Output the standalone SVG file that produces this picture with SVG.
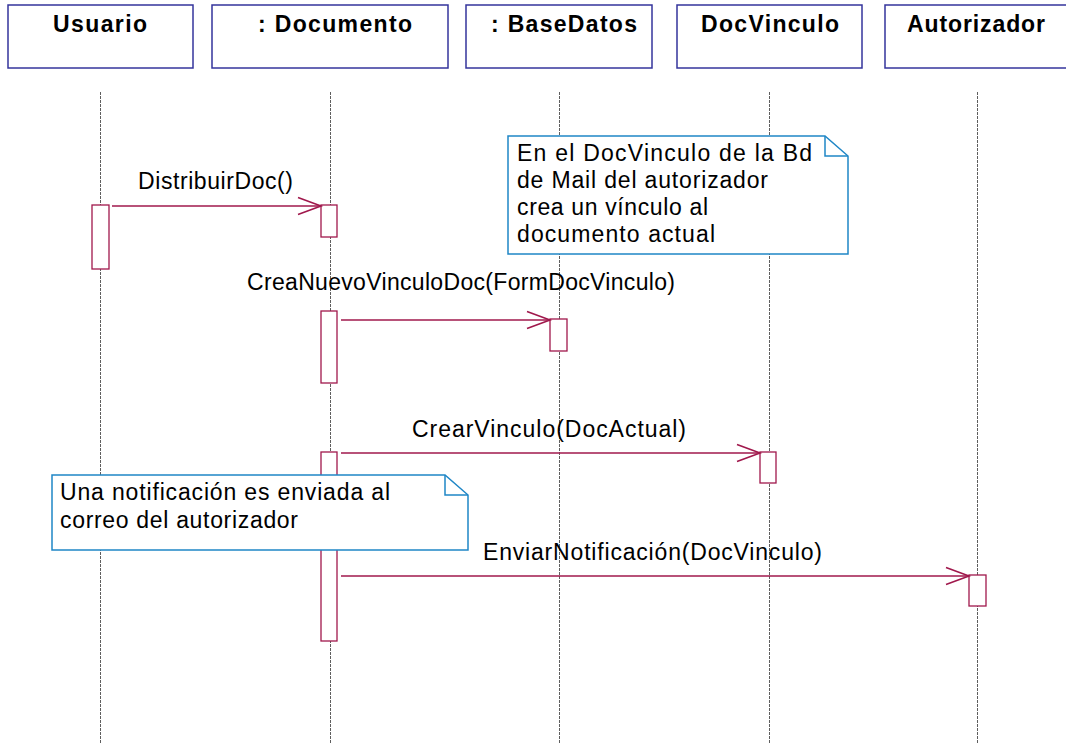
<svg xmlns="http://www.w3.org/2000/svg" width="1066" height="744" viewBox="0 0 1066 744">
  <style>
    .obj { fill: #fff; stroke: #34349c; stroke-width: 1.5; }
    .title { font-family: "Liberation Sans", Arial, sans-serif; font-weight: bold; font-size: 23px; fill: #000; }
    .life { stroke: #5e5e5e; stroke-width: 1; stroke-dasharray: 3 1; fill: none; }
    .act { fill: #fff; stroke: #a0184c; stroke-width: 1.3; }
    .msg { stroke: #a0184c; stroke-width: 1.3; fill: none; marker-end: url(#open); }
    .lbl { font-family: "Liberation Sans", Arial, sans-serif; font-size: 23px; fill: #000; }
    .note { fill: #fff; stroke: #1f86c6; stroke-width: 1.5; stroke-linejoin: miter; }
    .fold { fill: none; stroke: #1f86c6; stroke-width: 1.5; }
  </style>
  <defs>
    <marker id="open" viewBox="0 0 30 20" markerWidth="30" markerHeight="20" refX="24" refY="10" orient="auto" markerUnits="userSpaceOnUse">
      <path d="M1,1.5 L24,10 L1,18.5" fill="none" stroke="#a0184c" stroke-width="1.6"/>
    </marker>
  </defs>

  <rect width="1066" height="744" fill="#fff"/>

  <!-- lifelines -->
  <g id="lifelines">
    <line class="life" x1="100.5" y1="92" x2="100.5" y2="744"/>
    <line class="life" x1="330.5" y1="92" x2="330.5" y2="744"/>
    <line class="life" x1="559.5" y1="92" x2="559.5" y2="744"/>
    <line class="life" x1="769.5" y1="92" x2="769.5" y2="744"/>
    <line class="life" x1="977.5" y1="92" x2="977.5" y2="744"/>
  </g>

  <!-- object heads -->
  <g id="usuario">
    <rect class="obj" x="8" y="5" width="185" height="63"/>
    <text class="title" x="53" y="32" textLength="94">Usuario</text>
  </g>
  <g id="documento">
    <rect class="obj" x="212" y="5" width="236" height="63"/>
    <text class="title" x="258" y="32" textLength="154">: Documento</text>
  </g>
  <g id="basedatos">
    <rect class="obj" x="466" y="5" width="186" height="63"/>
    <text class="title" x="491" y="32" textLength="146">: BaseDatos</text>
  </g>
  <g id="docvinculo">
    <rect class="obj" x="677" y="5" width="185" height="63"/>
    <text class="title" x="701" y="32" textLength="138">DocVinculo</text>
  </g>
  <g id="autorizador">
    <rect class="obj" x="885" y="5" width="186" height="63"/>
    <text class="title" x="907" y="32" textLength="138">Autorizador</text>
  </g>

  <!-- activation bars -->
  <g id="activations">
    <rect class="act" x="92" y="205" width="17" height="64"/>
    <rect class="act" x="321" y="205" width="16" height="32"/>
    <rect class="act" x="321" y="311" width="16" height="72"/>
    <rect class="act" x="550" y="319" width="17" height="32"/>
    <rect class="act" x="321" y="452" width="16" height="189"/>
    <rect class="act" x="760" y="452" width="16" height="31"/>
    <rect class="act" x="969" y="575" width="17" height="31"/>
  </g>

  <!-- messages -->
  <g id="connectors">
    <line class="msg" x1="112" y1="206" x2="321" y2="206"/>
    <text class="lbl" x="138" y="189" textLength="155">DistribuirDoc()</text>

    <line class="msg" x1="341" y1="320" x2="550" y2="320"/>
    <text class="lbl" x="247" y="290" textLength="428">CreaNuevoVinculoDoc(FormDocVinculo)</text>

    <line class="msg" x1="341" y1="453" x2="760" y2="453"/>
    <text class="lbl" x="412" y="437" textLength="274">CrearVinculo(DocActual)</text>

    <line class="msg" x1="341" y1="576" x2="969" y2="576"/>
    <text class="lbl" x="483" y="560" textLength="339">EnviarNotificación(DocVinculo)</text>
  </g>

  <!-- notes -->
  <g id="note-vinculo">
    <path class="note" d="M508,136 L825,136 L848,156 L848,254 L508,254 Z"/>
    <path class="fold" d="M825,136 L825,156 L848,156"/>
    <text class="lbl" x="517" y="161" textLength="295">En el DocVinculo de la Bd</text>
    <text class="lbl" x="517" y="188" textLength="251">de Mail del autorizador</text>
    <text class="lbl" x="517" y="215" textLength="191">crea un vínculo al</text>
    <text class="lbl" x="517" y="242" textLength="198">documento actual</text>
  </g>
  <g id="note-notificacion">
    <path class="note" d="M52,475 L445,475 L468,495 L468,550 L52,550 Z"/>
    <path class="fold" d="M445,475 L445,495 L468,495"/>
    <text class="lbl" x="60" y="500" textLength="330">Una notificación es enviada al</text>
    <text class="lbl" x="60" y="528" textLength="238">correo del autorizador</text>
  </g>
</svg>
